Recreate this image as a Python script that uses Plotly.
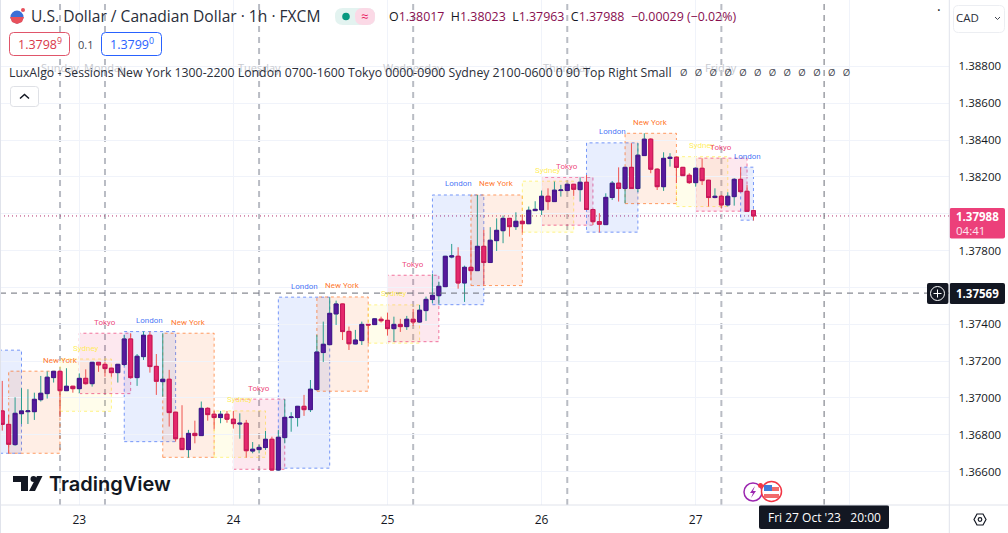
import pandas as pd
import plotly.graph_objects as go

W = 1008
H = 533
PLOT_R = 949.3
PLOT_B = 505

# hourly USDCAD candles, first one is Sun 22 Oct 12:00
first_bar = "2023-10-22 12:00"
opens = [
    1.36929,1.36856,1.36746,1.36914,1.36925,1.36925,1.36990,1.37023,1.37110,1.37144,1.37039,1.37063,
    1.37050,1.37106,1.37077,1.37193,1.37182,1.37161,1.37137,1.37181,1.37320,1.37110,1.37224,1.37340,
    1.37171,1.37088,1.37101,1.36922,1.36780,1.36719,1.36807,1.36795,1.36943,1.36911,1.36893,1.36911,
    1.36884,1.36858,1.36862,1.36711,1.36719,1.36730,1.36775,1.36608,1.36784,1.36893,1.36893,1.36954,
    1.36936,1.37045,1.37246,1.37289,1.37456,1.37510,1.37361,1.37293,1.37311,1.37399,1.37398,1.37427,
    1.37421,1.37376,1.37399,1.37387,1.37427,1.37412,1.37474,1.37534,1.37555,1.37604,1.37765,1.37769,
    1.37624,1.37709,1.37691,1.37823,1.37735,1.37854,1.37908,1.37975,1.37930,1.37959,1.37946,1.38017,
    1.38021,1.38095,1.38066,1.38126,1.38126,1.38160,1.38131,1.38171,1.38023,1.37957,1.37941,1.38088,
    1.38166,1.38137,1.38252,1.38137,1.38316,1.38405,1.38242,1.38147,1.38300,1.38307,1.38252,1.38209,
    1.38169,1.38247,1.38182,1.38088,1.38095,1.38048,1.38093,1.38187,1.38122,1.38017]
highs = [
    1.37092,1.36907,1.37003,1.37052,1.37047,1.37028,1.37119,1.37144,1.37146,1.37146,1.37161,1.37065,
    1.37133,1.37155,1.37195,1.37195,1.37197,1.37164,1.37184,1.37342,1.37351,1.37238,1.37360,1.37360,
    1.37238,1.37351,1.37152,1.36924,1.36960,1.36826,1.36876,1.36980,1.36949,1.36929,1.36929,1.36929,
    1.36929,1.36916,1.36880,1.36760,1.36744,1.36820,1.36789,1.36826,1.36992,1.36922,1.36956,1.37016,
    1.37097,1.37342,1.37414,1.37546,1.37528,1.37512,1.37387,1.37369,1.37414,1.37401,1.37432,1.37441,
    1.37463,1.37441,1.37429,1.37445,1.37483,1.37505,1.37550,1.37673,1.37631,1.37771,1.37836,1.37818,
    1.37718,1.37858,1.38102,1.37912,1.37927,1.37975,1.37990,1.37977,1.38008,1.37993,1.38039,1.38068,
    1.38126,1.38138,1.38175,1.38157,1.38162,1.38162,1.38198,1.38211,1.38026,1.38003,1.38111,1.38178,
    1.38252,1.38254,1.38383,1.38383,1.38437,1.38410,1.38247,1.38334,1.38329,1.38309,1.38254,1.38220,
    1.38252,1.38301,1.38184,1.38138,1.38102,1.38117,1.38193,1.38252,1.38156,1.38023]
lows = [
    1.36822,1.36699,1.36740,1.36858,1.36858,1.36880,1.36980,1.36996,1.37083,1.36898,1.37037,1.37028,
    1.37025,1.37072,1.37061,1.37141,1.37115,1.37115,1.37083,1.37173,1.37106,1.37065,1.37206,1.37137,
    1.37016,1.37007,1.36844,1.36762,1.36717,1.36675,1.36753,1.36793,1.36876,1.36833,1.36862,1.36865,
    1.36833,1.36778,1.36675,1.36699,1.36699,1.36717,1.36604,1.36604,1.36753,1.36816,1.36844,1.36902,
    1.36923,1.37043,1.37195,1.37287,1.37396,1.37314,1.37260,1.37291,1.37287,1.37296,1.37396,1.37409,
    1.37338,1.37305,1.37358,1.37369,1.37391,1.37409,1.37418,1.37514,1.37508,1.37602,1.37758,1.37593,
    1.37521,1.37640,1.37689,1.37610,1.37733,1.37798,1.37840,1.37876,1.37912,1.37898,1.37944,1.38015,
    1.37993,1.38021,1.38064,1.38093,1.38124,1.38097,1.38066,1.38021,1.37939,1.37898,1.37939,1.38075,
    1.38066,1.38057,1.38135,1.38118,1.38314,1.38220,1.38129,1.38124,1.38256,1.38166,1.38205,1.38162,
    1.38147,1.38156,1.38039,1.38084,1.38028,1.38039,1.38044,1.38118,1.38011,1.37963]
closes = [
    1.36856,1.36748,1.36916,1.36929,1.36929,1.36992,1.37025,1.37112,1.37144,1.37039,1.37063,1.37050,
    1.37106,1.37077,1.37193,1.37179,1.37159,1.37137,1.37182,1.37320,1.37110,1.37226,1.37340,1.37170,
    1.37090,1.37101,1.36920,1.36778,1.36719,1.36807,1.36795,1.36943,1.36909,1.36893,1.36911,1.36884,
    1.36860,1.36862,1.36713,1.36721,1.36731,1.36775,1.36608,1.36786,1.36894,1.36896,1.36954,1.36936,
    1.37047,1.37249,1.37291,1.37459,1.37510,1.37360,1.37294,1.37314,1.37399,1.37396,1.37429,1.37419,
    1.37376,1.37399,1.37387,1.37427,1.37412,1.37476,1.37535,1.37557,1.37606,1.37769,1.37771,1.37624,
    1.37709,1.37691,1.37823,1.37735,1.37856,1.37910,1.37975,1.37930,1.37959,1.37946,1.38019,1.38024,
    1.38095,1.38066,1.38128,1.38129,1.38160,1.38133,1.38171,1.38023,1.37957,1.37943,1.38089,1.38166,
    1.38137,1.38252,1.38137,1.38318,1.38405,1.38242,1.38147,1.38301,1.38307,1.38252,1.38207,1.38169,
    1.38247,1.38180,1.38088,1.38095,1.38048,1.38095,1.38187,1.38120,1.38013,1.37988]

# LuxAlgo session boxes
session_names = ["London","New York","Sydney","Tokyo","London","New York","Sydney","Tokyo",
                 "London","New York","Sydney","Tokyo","London","New York","Sydney","Tokyo",
                 "London","New York","Sydney","Tokyo","London"]
session_start = ["2023-10-22 07:00","2023-10-22 13:00","2023-10-22 21:00","2023-10-23 00:00",
                 "2023-10-23 07:00","2023-10-23 13:00","2023-10-23 21:00","2023-10-24 00:00",
                 "2023-10-24 07:00","2023-10-24 13:00","2023-10-24 21:00","2023-10-25 00:00",
                 "2023-10-25 07:00","2023-10-25 13:00","2023-10-25 21:00","2023-10-26 00:00",
                 "2023-10-26 07:00","2023-10-26 13:00","2023-10-26 21:00","2023-10-27 00:00",
                 "2023-10-27 07:00"]
session_end = ["2023-10-22 15:00","2023-10-22 21:00","2023-10-23 05:00","2023-10-23 08:00",
               "2023-10-23 15:00","2023-10-23 21:00","2023-10-24 05:00","2023-10-24 08:00",
               "2023-10-24 15:00","2023-10-24 21:00","2023-10-25 05:00","2023-10-25 08:00",
               "2023-10-25 15:00","2023-10-25 21:00","2023-10-26 05:00","2023-10-26 08:00",
               "2023-10-26 15:00","2023-10-26 21:00","2023-10-27 05:00","2023-10-27 08:00",
               "2023-10-27 09:00"]
session_high = [1.37259,1.37145,1.37211,1.37351,1.37360,1.37351,1.36929,1.36993,1.37547,1.37548,1.37505,
                1.37666,1.38102,1.38102,1.38177,1.38198,1.38385,1.38437,1.38310,1.38302,1.38253]
session_low = [1.36699,1.36699,1.36927,1.37023,1.36762,1.36677,1.36677,1.36612,1.36618,1.37036,1.37297,
               1.37305,1.37506,1.37610,1.37900,1.37938,1.37900,1.38055,1.38039,1.38014,1.37965]
session_colors = {"London": "33,87,243", "New York": "255,93,0", "Tokyo": "233,30,99", "Sydney": "255,235,59"}

# dashed day separators from the indicator
day_names = ["Sunday","Monday","Tuesday","Wednesday","Thursday","Friday"]
day_lines = ["2023-10-22 21:00","2023-10-23 04:00","2023-10-24 04:00","2023-10-25 04:00",
             "2023-10-26 04:00","2023-10-27 04:00"]

price_ticks = [1.388,1.386,1.384,1.382,1.380,1.378,1.376,1.374,1.372,1.370,1.368,1.366]
price_labels = ["1.38800","1.38600","1.38400","1.38200","","1.37800","","1.37400","1.37200","1.37000","1.36800","1.36600"]
date_ticks = ["2023-10-23","2023-10-24","2023-10-25","2023-10-26","2023-10-27","2023-10-28"]
date_labels = ["23","24","25","26","27",""]

last_close = 1.37988
cross_price = 1.37569
cross_time = "2023-10-27 20:00"

UI_FONT = "Open Sans"
PURPLE = "#561a9c"
PINK = "#e5286c"
times = pd.date_range(first_bar, periods=len(opens), freq="h")

fig = go.Figure()
#wicks first, the bodies go over them so the wick can have its own colour
fig.add_trace(go.Candlestick(x=times, open=opens, high=highs, low=lows, close=closes,
                             increasing=dict(line=dict(color="#2b9d8f", width=1), fillcolor=PURPLE),
                             decreasing=dict(line=dict(color="#ef5350", width=1), fillcolor=PINK),
                             whiskerwidth=0, hoverinfo="skip", showlegend=False))
body_high = [max(a, b) for a, b in zip(opens, closes)]
body_low = [min(a, b) for a, b in zip(opens, closes)]
fig.add_trace(go.Candlestick(x=times, open=opens, high=body_high, low=body_low, close=closes,
                             increasing=dict(line=dict(color="#4a148c", width=1), fillcolor=PURPLE),
                             decreasing=dict(line=dict(color="#c2185b", width=1), fillcolor=PINK),
                             whiskerwidth=0, hoverinfo="skip", showlegend=False))


def px(x):
    return x / W


def py(y):
    return 1 - y / H


def paper_rect(x0, y0, x1, y1, fill, line=None, line_width=1, radius=0):
    # rounded box given in screen pixels
    if radius == 0:
        path = f"M{px(x0)},{py(y0)} L{px(x1)},{py(y0)} L{px(x1)},{py(y1)} L{px(x0)},{py(y1)} Z"
    else:
        r = radius
        path = (f"M{px(x0+r)},{py(y0)} L{px(x1-r)},{py(y0)} Q{px(x1)},{py(y0)} {px(x1)},{py(y0+r)} "
                f"L{px(x1)},{py(y1-r)} Q{px(x1)},{py(y1)} {px(x1-r)},{py(y1)} "
                f"L{px(x0+r)},{py(y1)} Q{px(x0)},{py(y1)} {px(x0)},{py(y1-r)} "
                f"L{px(x0)},{py(y0+r)} Q{px(x0)},{py(y0)} {px(x0+r)},{py(y0)} Z")
    return dict(type="path", xref="paper", yref="paper", path=path, fillcolor=fill, layer="above",
                line=dict(color=line if line else "rgba(0,0,0,0)", width=line_width))


def paper_circle(cx, cy, r, fill, line=None, line_width=1):
    return dict(type="circle", xref="paper", yref="paper", x0=px(cx-r), x1=px(cx+r), y0=py(cy+r), y1=py(cy-r),
                fillcolor=fill, layer="above", line=dict(color=line if line else "rgba(0,0,0,0)", width=line_width))


def paper_poly(points, fill="rgba(0,0,0,0)", line=None, line_width=1, close=True):
    path = "M" + " L".join(f"{px(a)},{py(b)}" for a, b in points) + (" Z" if close else "")
    return dict(type="path", xref="paper", yref="paper", path=path, fillcolor=fill, layer="above",
                line=dict(color=line if line else "rgba(0,0,0,0)", width=line_width))


def label(x, y, text, size=12, color="#131722", anchor="left", family=UI_FONT, weight="normal"):
    # annotations pad their text by about 3px
    if anchor == "left":
        x = x - 3
    return dict(xref="paper", yref="paper", x=px(x), y=py(y), text=text, showarrow=False, xanchor=anchor,
                yanchor="middle", align=anchor, font=dict(family=family, size=size, color=color, weight=weight))


shapes = []
annotations = []

# session boxes
for i, name in enumerate(session_names):
    rgb = session_colors[name]
    shapes.append(dict(type="rect", xref="x", yref="y", x0=session_start[i], x1=session_end[i],
                       y0=session_low[i], y1=session_high[i], layer="below",
                       fillcolor=f"rgba({rgb},0.1)", line=dict(color=f"rgba({rgb},0.6)", width=1, dash="dot")))
    if i == 0:
        continue
    mid = pd.Timestamp(session_start[i]) + (pd.Timestamp(session_end[i]) - pd.Timestamp(session_start[i])) / 2
    if i == 1:
        mid = pd.Timestamp(session_end[i])
    annotations.append(dict(x=mid, y=session_high[i], xref="x", yref="y", text=name, showarrow=False, yshift=11,
                            font=dict(family="Roboto", size=8, color=f"rgba({rgb},0.85)")))

# day separators and their faded names
for t, name in zip(day_lines, day_names):
    shapes.append(dict(type="line", xref="x", yref="paper", x0=t, x1=t, y0=py(PLOT_B), y1=1, layer="below",
                       line=dict(color="#b9bcc4", width=2, dash="6px,5px")))
    annotations.append(dict(x=t, xref="x", yref="paper", y=py(67), text=name, showarrow=False, yanchor="middle",
                            font=dict(family=UI_FONT, size=11, color="#c9cbd1")))

# price line and crosshair
shapes.append(dict(type="line", xref="paper", yref="y", x0=0, x1=px(PLOT_R), y0=last_close, y1=last_close,
                   layer="below", line=dict(color="#b2326f", width=1, dash="1px,3px")))
shapes.append(dict(type="line", xref="paper", yref="y", x0=0, x1=px(PLOT_R), y0=cross_price, y1=cross_price,
                   layer="above", line=dict(color="#6a6d78", width=1, dash="6px,5px")))
shapes.append(dict(type="line", xref="x", yref="paper", x0=cross_time, x1=cross_time, y0=py(PLOT_B), y1=1,
                   layer="above", line=dict(color="#6a6d78", width=1, dash="6px,5px")))

# header, line 1
shapes.append(paper_circle(17, 17, 6.5, "#3d6fd6"))
shapes.append(paper_poly([(10, 17), (24, 17), (22, 22), (17, 24), (12, 22)], fill="#e8505b"))
shapes.append(paper_circle(23, 10, 2, "#e8505b"))
annotations.append(label(32, 16.5, "U.S. Dollar / Canadian Dollar · 1h · FXCM", size=15.6, color="#2a2e39"))
shapes.append(paper_rect(335, 8, 375, 25, "#e3f3f0", radius=8))
shapes.append(paper_rect(355, 8, 375, 25, "#fbd9e6", radius=8))
shapes.append(paper_circle(346, 16.5, 3.8, "#089981"))
annotations.append(label(364, 16, "≈", size=13, color="#e91e63", anchor="center"))
val = "#880e4f"
ohlc = (f'O<span style="color:{val}">1.38017</span>  H<span style="color:{val}">1.38023</span>  '
        f'L<span style="color:{val}">1.37963</span>  C<span style="color:{val}">1.37988</span>  '
        f'<span style="color:{val}">−0.00029 (−0.02%)</span>')
annotations.append(label(390, 16.5, ohlc, size=12.4, color="#131722"))

# bid / ask boxes
shapes.append(paper_rect(9.5, 32.5, 69.5, 55.5, "#ffffff", "#e0556a", 1, 4))
annotations.append(label(39.5, 44, "1.3798<sup>9</sup>", size=12.5, color="#d9384a", anchor="center"))
annotations.append(label(85, 44, "0.1", size=11, color="#434651", anchor="center"))
shapes.append(paper_rect(101.5, 32.5, 161.5, 55.5, "#ffffff", "#2962ff", 1, 4))
annotations.append(label(131.5, 44, "1.3799<sup>0</sup>", size=12.5, color="#2962ff", anchor="center"))

# indicator legend
annotations.append(label(10, 72, "LuxAlgo - Sessions New York 1300-2200 London 0700-1600 Tokyo 0000-0900 Sydney 2100-0600 0 90 Top Right Small",
                         size=12.27, color="#2a2e39"))
annotations.append(label(681, 72, "Ø   Ø   Ø   Ø   Ø   Ø   Ø   Ø   Ø   Ø   Ø   Ø", size=9.5, color="#434651"))
shapes.append(paper_rect(10.5, 86.5, 38.5, 106.5, "#ffffff", "#dfe1e6", 1, 3))
shapes.append(paper_poly([(20, 98.5), (24.5, 94.5), (29, 98.5)], line="#131722", line_width=1.5, close=False))

# right hand side widgets
annotations.append(label(939, 10, "·", size=14, color="#131722", anchor="center"))
shapes.append(paper_rect(953.5, 5.5, 1004.5, 32.5, "#ffffff", "#eceef2", 1, 5))
annotations.append(label(957, 18, "CAD", size=11.5, color="#2a2e39"))
shapes.append(paper_poly([(995, 17), (997.5, 19.5), (1000, 17)], line="#434651", close=False))

# last price tag
shapes.append(paper_rect(949.5, 208, 1005, 238.5, "#ec407a", radius=2))
annotations.append(label(957, 217, "<b>1.37988</b>", size=11.5, color="#ffffff"))
annotations.append(label(957, 230.5, "04:41", size=11.5, color="#fde4ee"))

# crosshair tags
shapes.append(paper_rect(927, 283, 948.5, 304, "#131722", radius=2))
shapes.append(paper_circle(937.5, 293.5, 7, "rgba(0,0,0,0)", "#ffffff", 1))
shapes.append(paper_poly([(933.5, 293.5), (941.5, 293.5)], line="#ffffff", close=False))
shapes.append(paper_poly([(937.5, 289.5), (937.5, 297.5)], line="#ffffff", close=False))
shapes.append(paper_rect(949.5, 283, 1005, 304, "#131722", radius=2))
annotations.append(label(957, 293.5, "<b>1.37569</b>", size=11.5, color="#ffffff"))
shapes.append(paper_rect(759, 505, 889, 529, "#131722", radius=2))
annotations.append(label(824, 517.5, "Fri 27 Oct '23   20:00", size=12, color="#ffffff", anchor="center"))

# TradingView logo
shapes.append(paper_poly([(13, 476), (28, 476), (28, 491), (21, 491), (21, 482), (13, 482)], fill="#131722"))
shapes.append(paper_circle(33.5, 479, 3, "#131722"))
shapes.append(paper_poly([(37, 476), (42.5, 476), (35, 491), (29, 491)], fill="#131722"))
annotations.append(label(50, 484, "TradingView", size=20, color="#131722", family="Inter", weight=600))

# event icons
shapes.append(paper_circle(753, 492, 9, "#ffffff", "#9c27b0", 1.5))
shapes.append(paper_poly([(755, 486), (750, 493), (753, 493), (751, 498), (756, 491), (753, 491)], fill="#9c27b0"))
shapes.append(paper_circle(760.5, 485.5, 2.5, "#f23645"))
shapes.append(paper_circle(771.5, 491.5, 10, "#ffffff", "#f23645", 1.5))
shapes.append(paper_rect(764, 487, 779, 491, "#f26a6a"))
shapes.append(paper_rect(764, 494, 779, 498, "#f26a6a"))
shapes.append(paper_rect(764, 485, 772, 491, "#3f7bd9"))

# settings hexagon on the time scale
shapes.append(paper_poly([(974, 519.5), (977, 514), (983, 514), (986, 519.5), (983, 525), (977, 525)], line="#131722", line_width=1.2))
shapes.append(paper_circle(980, 519.5, 1.8, "rgba(0,0,0,0)", "#131722", 1.2))

# frame lines of the panes
shapes.append(dict(type="line", xref="paper", yref="paper", x0=0, x1=1, y0=py(PLOT_B), y1=py(PLOT_B),
                   layer="above", line=dict(color="#e0e3eb", width=1)))
shapes.append(dict(type="line", xref="paper", yref="paper", x0=px(PLOT_R), x1=px(PLOT_R), y0=0, y1=1,
                   layer="above", line=dict(color="#e0e3eb", width=1)))
shapes.append(dict(type="line", xref="paper", yref="paper", x0=px(0.5), x1=px(0.5), y0=0, y1=1,
                   layer="above", line=dict(color="#e0e3eb", width=1)))

fig.update_layout(
    width=W, height=H, autosize=False,
    margin=dict(l=0, r=0, t=0, b=0),
    paper_bgcolor="#ffffff", plot_bgcolor="#ffffff",
    showlegend=False, boxgap=0.12,
    shapes=shapes, annotations=annotations,
    xaxis=dict(domain=[0, px(PLOT_R)], range=["2023-10-22 11:39", "2023-10-28 15:30"], type="date",
               tickvals=date_ticks, ticktext=date_labels, ticks="outside", ticklen=4, tickcolor="rgba(0,0,0,0)",
               showgrid=True, gridcolor="#f0f3fa", gridwidth=1, zeroline=False, showline=False,
               rangeslider=dict(visible=False), tickfont=dict(family=UI_FONT, size=12, color="#131722")),
    yaxis=dict(domain=[py(PLOT_B), 1], range=[1.36418, 1.39161], side="right", anchor="x",
               tickvals=price_ticks, ticktext=price_labels, ticks="outside", ticklen=6, tickcolor="rgba(0,0,0,0)",
               showgrid=True, gridcolor="#f0f3fa", gridwidth=1, zeroline=False, showline=False,
               tickfont=dict(family=UI_FONT, size=11.5, color="#131722")),
)

fig.write_html("out.html", config=dict(displayModeBar=False),
               post_script="document.body.style.margin='0';document.body.style.overflow='hidden';")
